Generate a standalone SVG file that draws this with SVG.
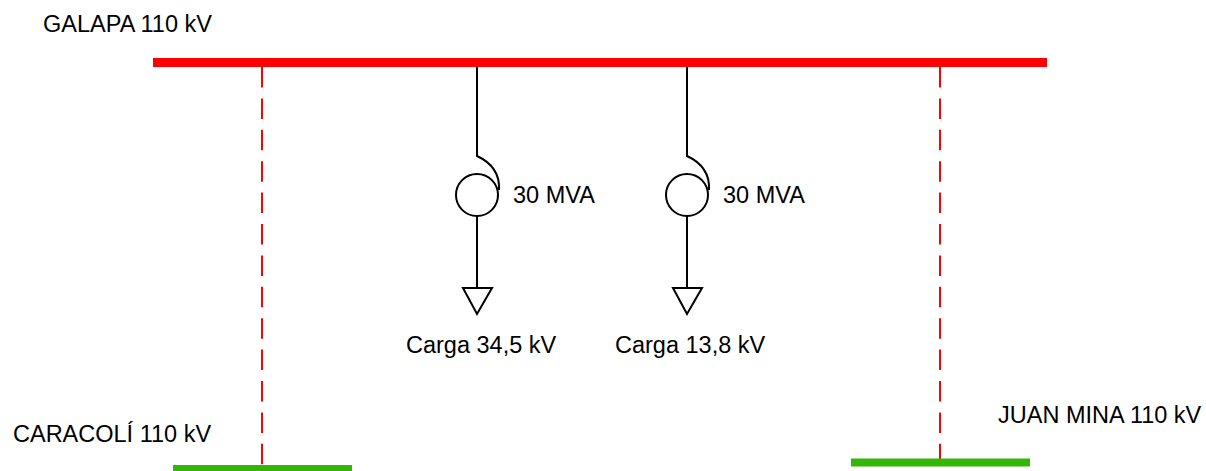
<svg xmlns="http://www.w3.org/2000/svg" width="1206" height="471" viewBox="0 0 1206 471">
<style>
.lbl{font-family:"Liberation Sans",Arial,sans-serif;font-size:23.5px;fill:#000}
.bus{stroke:#ff0000;stroke-width:9}
.gbus{stroke:#33b50a;stroke-width:8}
.line{stroke:#ff0000;stroke-width:2;stroke-dasharray:20.5 10.9;fill:none}
.blk{stroke:#000;stroke-width:2;fill:none}
</style>
<rect width="1206" height="471" fill="#fff"/>
<g id="connectors">
<line class="line" x1="262" y1="67" x2="262" y2="466"/>
<line class="line" x1="940" y1="67" x2="940" y2="459"/>
</g>
<g id="galapa">
<line class="bus" x1="153" y1="62.5" x2="1047" y2="62.5"/>
<text class="lbl" x="43" y="32">GALAPA 110 kV</text>
</g>
<g id="caracoli">
<line class="gbus" x1="173" y1="469" x2="352" y2="469"/>
<text class="lbl" x="13" y="442">CARACOLÍ 110 kV</text>
</g>
<g id="juanmina">
<line class="gbus" x1="851" y1="462.5" x2="1030" y2="462.5"/>
<text class="lbl" x="998" y="423">JUAN MINA 110 kV</text>
</g>
<g id="trafo1">
<path class="blk" d="M477,67 V156 C490,162 500,172 499,190"/>
<circle class="blk" cx="477" cy="195" r="21"/>
<text class="lbl" x="513" y="203">30 MVA</text>
</g>
<g id="carga1">
<path class="blk" d="M477,216 V288"/>
<path class="blk" d="M463,288 H492 L477,314 Z"/>
<text class="lbl" x="406" y="353">Carga 34,5 kV</text>
</g>
<g id="trafo2">
<path class="blk" d="M687,67 V156 C700,162 710,172 709,190"/>
<circle class="blk" cx="687" cy="195" r="21"/>
<text class="lbl" x="723" y="203">30 MVA</text>
</g>
<g id="carga2">
<path class="blk" d="M687,216 V288"/>
<path class="blk" d="M673,288 H702 L687,314 Z"/>
<text class="lbl" x="615" y="353">Carga 13,8 kV</text>
</g>
</svg>
